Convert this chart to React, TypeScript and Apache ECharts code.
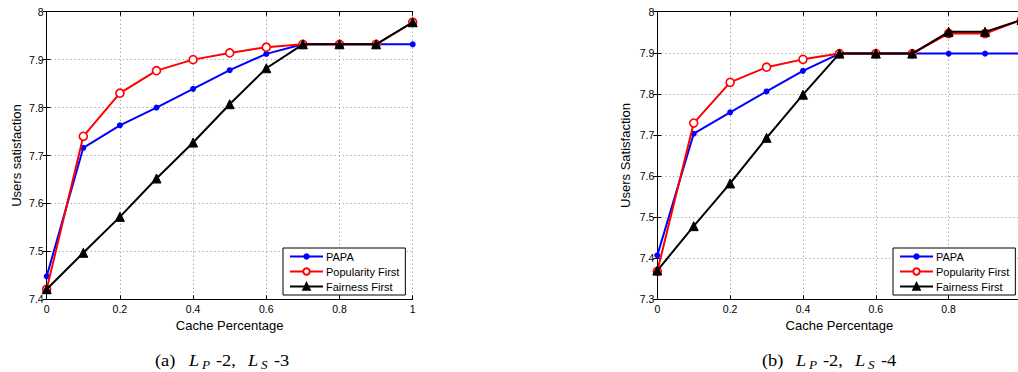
import React, { useEffect, useRef } from "react";
import * as echarts from "echarts";

const cachePct = [0, 0.1, 0.2, 0.3, 0.4, 0.5, 0.6, 0.7, 0.8, 0.9, 1.0];

// (a) L_P-2, L_S-3
const papaA = [7.448, 7.716, 7.763, 7.8, 7.839, 7.878, 7.912, 7.932, 7.932, 7.932, 7.932];
const popularityA = [7.421, 7.74, 7.83, 7.877, 7.9, 7.914, 7.926, 7.932, 7.932, 7.932, 7.978];
const fairnessA = [7.421, 7.497, 7.572, 7.652, 7.727, 7.807, 7.882, 7.932, 7.932, 7.932, 7.978];

// (b) L_P-2, L_S-4
const papaB = [7.407, 7.703, 7.755, 7.806, 7.856, 7.898, 7.898, 7.898, 7.898, 7.898, 7.898];
const popularityB = [7.368, 7.729, 7.828, 7.865, 7.884, 7.898, 7.898, 7.898, 7.947, 7.947, 7.98];
const fairnessB = [7.37, 7.478, 7.582, 7.693, 7.798, 7.898, 7.898, 7.898, 7.951, 7.951, 7.98];

const seriesNames = ["PAPA", "Popularity First", "Fairness First"];
const yNames = ["Users satisfaction", "Users Satisfaction"];
const xName = "Cache Percentage";
const yRanges = [
  [7.4, 8],
  [7.3, 8],
];
const captionLetters = ["(a)", "(b)"];
const captionLs = ["3", "4"];

const FONT = "'Liberation Sans', Arial, Helvetica, sans-serif";
const SERIF = "'Liberation Serif', 'Times New Roman', serif";

export default function App() {
  const ref = useRef<HTMLDivElement>(null);
  useEffect(() => {
    if (!ref.current) return;
    const chart = echarts.init(ref.current, null, { renderer: "svg" });
    const grids = [
      { left: 46.7, top: 11.7, width: 366, height: 287.6, outerBoundsMode: "none", containLabel: false },
      { left: 657.3, top: 11.7, width: 364.2, height: 287.6, outerBoundsMode: "none", containLabel: false },
    ];
    const yNameGaps = [24, 25.5];
    const xAxes: any[] = [];
    const yAxes: any[] = [];
    const grid = { show: true, lineStyle: { color: "#8a8a8a", type: [1, 3], width: 1 } };
    grids.forEach((_, gi) => {
      const base = {
        type: "value",
        gridIndex: gi,
        axisLine: { show: true, lineStyle: { color: "#000", width: 1 } },
        axisTick: { show: true, inside: true, length: 4, lineStyle: { color: "#000" } },
      };
      xAxes.push({
        ...base,
        position: "bottom",
        min: 0,
        max: 1,
        interval: 0.2,
        name: xName,
        nameLocation: "middle",
        nameGap: 15,
        nameTextStyle: { fontFamily: FONT, fontSize: 13, color: "#000" },
        axisLabel: {
          fontFamily: FONT,
          fontSize: 10.5,
          color: "#000",
          margin: 4,
          showMaxLabel: gi === 0,
        },
        splitLine: grid,
      });
      xAxes.push({
        ...base,
        position: "top",
        min: 0,
        max: 1,
        interval: 0.2,
        axisLabel: { show: false },
        splitLine: { show: false },
      });
      yAxes.push({
        ...base,
        position: "left",
        min: yRanges[gi][0],
        max: yRanges[gi][1],
        interval: 0.1,
        name: yNames[gi],
        nameLocation: "middle",
        nameGap: yNameGaps[gi],
        nameTextStyle: { fontFamily: FONT, fontSize: 13, color: "#000" },
        axisLabel: { fontFamily: FONT, fontSize: 10.5, color: "#000", margin: 3 },
        splitLine: grid,
      });
      yAxes.push({
        ...base,
        position: "right",
        min: yRanges[gi][0],
        max: yRanges[gi][1],
        interval: 0.1,
        axisLabel: { show: false },
        splitLine: { show: false },
      });
    });

    const pair = (ys: number[]) => cachePct.map((x, i) => [x, ys[i]]);
    const mk = (gi: number, ys: number[], kind: number) => {
      const common: any = {
        type: "line",
        name: seriesNames[kind],
        xAxisIndex: gi * 2,
        yAxisIndex: gi * 2,
        data: pair(ys),
        showAllSymbol: true,
        z: 3 + kind,
      };
      if (kind === 0) {
        return {
          ...common,
          symbol: "circle",
          symbolSize: 6,
          itemStyle: { color: "#0000ff" },
          lineStyle: { color: "#0000ff", width: 2 },
        };
      } else if (kind === 1) {
        return {
          ...common,
          symbol: "circle",
          symbolSize: 8,
          itemStyle: { color: "#ffffff", borderColor: "#ff0000", borderWidth: 1.6 },
          lineStyle: { color: "#ff0000", width: 2 },
        };
      }
      return {
        ...common,
        symbol: "triangle",
        symbolSize: 9,
        itemStyle: { color: "#000000", borderColor: "#000000", borderWidth: 1 },
        lineStyle: { color: "#000000", width: 2 },
      };
    };

    const series = [
      mk(0, papaA, 0),
      mk(0, popularityA, 1),
      mk(0, fairnessA, 2),
      mk(1, papaB, 0),
      mk(1, popularityB, 1),
      mk(1, fairnessB, 2),
    ];

    const legendBase = {
      orient: "vertical",
      data: seriesNames,
      itemWidth: 33,
      itemHeight: 8,
      itemGap: 4,
      padding: [3, 6, 3, 6],
      borderColor: "#000",
      borderWidth: 1,
      borderRadius: 0,
      backgroundColor: "#fff",
      selectedMode: false,
      textStyle: { fontFamily: FONT, fontSize: 11, color: "#000", padding: [0, 0, 0, -2] },
    };

    const SX = 1.15;
    const txt = (x: number, y: number, text: string, size: number, italic: boolean) => ({
      type: "text",
      x,
      y,
      scaleX: SX,
      style: {
        text,
        fontFamily: SERIF,
        fontSize: size,
        fontStyle: italic ? "italic" : "normal",
        fill: "#000",
        textAlign: "left",
        textVerticalAlign: "middle",
        verticalAlign: "middle",
      },
    });
    const caption = (gi: number) => {
      const o = gi * 607;
      return [
        txt(155 + o, 361, captionLetters[gi], 16, false),
        txt(189 + o, 361, "L", 16, true),
        txt(202 + o, 365, "P", 11.5, true),
        txt(216 + o, 361, "-2,", 16, false),
        txt(248 + o, 361, "L", 16, true),
        txt(261 + o, 365, "S", 11.5, true),
        txt(274 + o, 361, "-" + captionLs[gi], 16, false),
      ];
    };

    chart.setOption({
      animation: false,
      backgroundColor: "#ffffff",
      grid: grids,
      xAxis: xAxes,
      yAxis: yAxes,
      series,
      legend: [
        { ...legendBase, left: 283, top: 248 },
        { ...legendBase, left: 893, top: 248 },
      ],
      graphic: [...caption(0), ...caption(1)],
    });
    return () => chart.dispose();
  }, []);
  return (
    <div
      ref={ref}
      style={{ position: "fixed", left: 0, top: 0, width: 1018, height: 372, background: "#fff" }}
    />
  );
}
